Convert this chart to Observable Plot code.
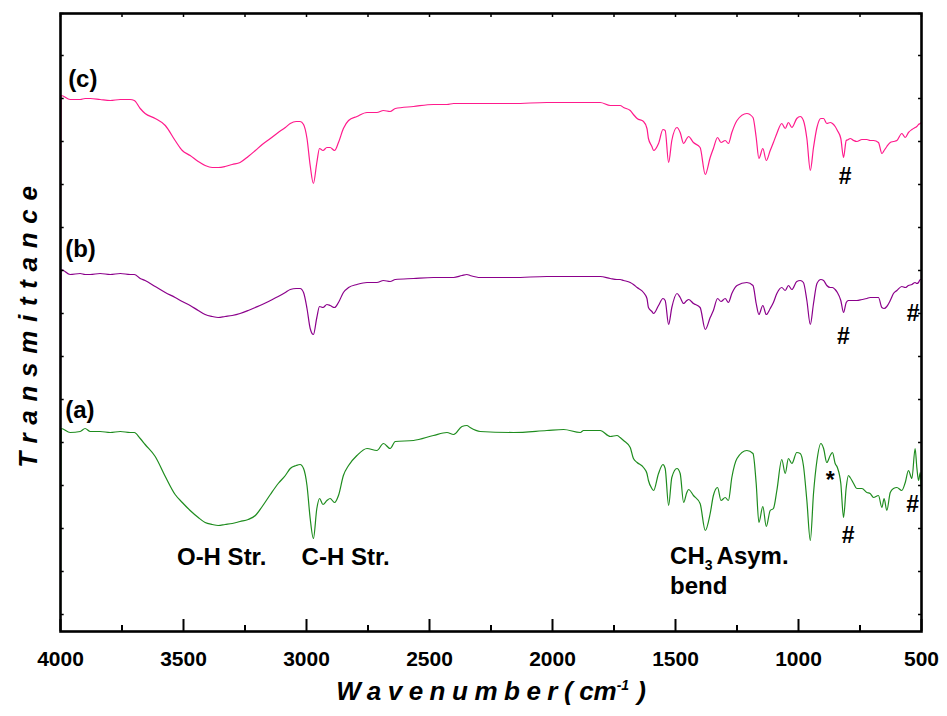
<!DOCTYPE html>
<html><head><meta charset="utf-8">
<script src="https://cdn.jsdelivr.net/npm/d3@7"></script>
<script src="https://cdn.jsdelivr.net/npm/@observablehq/plot@0.6"></script>
<style>body{margin:0;background:#fff} svg{display:block}</style>
</head><body><div id="chart"></div>
<script>
// Wavenumber grid (cm-1) shared by the three spectra
const wavenumber = [
  4000, 3997, 3961, 3920, 3900, 3879, 3839, 3798, 3757, 3717,
  3700, 3676, 3656, 3615, 3574, 3534, 3505, 3473, 3440, 3412,
  3383, 3359, 3331, 3302, 3270, 3237, 3208, 3180, 3147, 3115,
  3086, 3066, 3042, 3026, 3012, 2998, 2985, 2972, 2958, 2947,
  2933, 2917, 2904, 2886, 2870, 2850, 2829, 2795, 2754, 2714,
  2687, 2660, 2639, 2565, 2484, 2429, 2402, 2368, 2348, 2335,
  2294, 2159, 2023, 1955, 1887, 1874, 1806, 1765, 1738, 1725,
  1711, 1684, 1671, 1656, 1630, 1616, 1610, 1596, 1589, 1569,
  1551, 1542, 1528, 1515, 1494, 1481, 1467, 1454, 1447, 1427,
  1400, 1379, 1359, 1346, 1329, 1315, 1298, 1285, 1271, 1250,
  1210, 1185, 1172, 1161, 1145, 1131, 1115, 1102, 1088, 1068,
  1054, 1041, 1027, 1007, 993, 980, 966, 952, 939, 925,
  909, 898, 885, 871, 862, 851, 842, 828, 817, 806,
  797, 790, 776, 763, 742, 722, 709, 695, 675, 661,
  652, 641, 627, 614, 600, 580, 566, 553, 539, 526,
  519, 512, 505, 500
];
// Transmittance (a.u., stacked) of each sample
const spectrumA = [
  19, 203, 199, 200, 203, 200, 200, 199, 200, 199,
  199, 193, 187, 175, 155, 137, 129, 121, 114, 109,
  107, 106, 107, 108, 110, 112, 116, 125, 137, 148,
  156, 163, 166, 167, 163, 146, 113, 93, 123, 133,
  127, 131, 133, 129, 136, 156, 166, 176, 183, 181,
  188, 183, 190, 191, 196, 199, 197, 205, 206, 204,
  200, 199, 201, 202, 199, 201, 201, 195, 196, 194,
  191, 184, 173, 169, 164, 158, 151, 143, 141, 158,
  167, 163, 126, 154, 163, 158, 129, 139, 142, 136,
  128, 101, 118, 136, 144, 131, 134, 131, 154, 173,
  181, 178, 148, 109, 125, 105, 121, 123, 141, 172,
  158, 173, 168, 179, 178, 166, 131, 91, 138, 171,
  188, 183, 169, 176, 179, 168, 164, 148, 114, 144,
  156, 154, 148, 143, 143, 139, 138, 134, 136, 124,
  133, 121, 139, 143, 144, 141, 149, 161, 153, 183,
  164, 151, 159, 134
];
const spectrumB = [
  258, 362, 357, 358, 357, 357, 358, 357, 358, 357,
  357, 353, 351, 345, 339, 334, 330, 326, 321, 317,
  315, 314, 315, 316, 318, 321, 324, 327, 331, 335,
  339, 342, 343, 343, 339, 323, 303, 297, 314, 325,
  324, 327, 326, 324, 329, 339, 344, 347, 349, 349,
  351, 350, 352, 353, 354, 354, 354, 356, 357, 356,
  354, 354, 355, 355, 355, 355, 355, 353, 352, 352,
  351, 349, 347, 344, 339, 333, 324, 320, 318, 326,
  333, 331, 307, 324, 338, 334, 328, 331, 332, 328,
  324, 302, 314, 321, 333, 330, 333, 329, 338, 346,
  349, 346, 328, 317, 326, 317, 323, 329, 338, 344,
  341, 346, 342, 350, 351, 349, 331, 307, 328, 348,
  352, 351, 346, 344, 344, 342, 339, 331, 319, 329,
  331, 331, 331, 331, 332, 333, 334, 334, 334, 324,
  323, 325, 331, 338, 341, 345, 344, 346, 347, 349,
  348, 349, 352, 352
];
const spectrumC = [
  423, 536, 532, 532, 533, 533, 532, 531, 532, 532,
  531, 523, 518, 513, 506, 491, 481, 476, 470, 466,
  464, 464, 465, 467, 469, 475, 481, 487, 493, 499,
  504, 508, 510, 510, 507, 493, 466, 448, 469, 483,
  481, 484, 484, 481, 489, 503, 511, 515, 519, 519,
  521, 520, 523, 525, 527, 527, 528, 528, 528, 528,
  528, 528, 529, 529, 529, 529, 529, 526, 526, 526,
  524, 521, 517, 513, 510, 503, 493, 485, 481, 488,
  502, 501, 469, 491, 504, 499, 488, 493, 495, 489,
  484, 457, 474, 483, 494, 489, 491, 488, 499, 511,
  518, 514, 494, 473, 483, 471, 481, 489, 498, 508,
  503, 509, 504, 513, 515, 511, 493, 461, 484, 504,
  513, 513, 508, 509, 508, 505, 501, 493, 474, 491,
  492, 493, 491, 490, 492, 492, 491, 491, 489, 478,
  481, 485, 489, 490, 491, 498, 494, 499, 502, 504,
  505, 507, 508, 509
];
const seriesNames = ["(a)", "(b)", "(c)"];
const seriesColors = ["#1e8c1e", "#8b008b", "#ff1a8c"];
const seriesLabelWn = [3981, 3981, 3969];
const seriesLabelT = [221, 382, 552];

const xTickMajor = [4000, 3500, 3000, 2500, 2000, 1500, 1000, 500];
const xTickMinor = [3750, 3250, 2750, 2250, 1750, 1250, 750];
const yTicks = [17, 60, 103, 146, 189, 232, 275, 318, 361, 404, 447, 490, 533, 576, 618];

const bandText = ["O-H Str.", "C-H Str.", "CH3 Asym.", "bend"];
const bandWn = [3345, 2841, 1522, 1522];
const bandT = [74, 74, 75, 45];
const bandAnchor = ["middle", "middle", "start", "start"];

const markText = ["#", "#", "#", "#", "#", "*"];
const markWn = [810, 818, 534, 798, 536, 871];
const markT = [455, 295, 318, 96, 127, 151];

const xTitle = "Wavenumber(cm-1)";
const yTitle = "Transmittance";

// tidy table for Plot
const spectra = [spectrumA, spectrumB, spectrumC];
const rows = [];
spectra.forEach((vals, i) => vals.forEach((v, j) => rows.push({series: seriesNames[i], wn: wavenumber[j], t: v})));
const seriesLabels = seriesNames.map((s, i) => ({s, wn: seriesLabelWn[i], t: seriesLabelT[i]}));
const bands = bandText.map((s, i) => ({s, wn: bandWn[i], t: bandT[i], anchor: bandAnchor[i]}));
const marks = markText.map((s, i) => ({s, wn: markWn[i], t: markT[i]}));

const font = "'Liberation Sans', Arial, Helvetica, sans-serif";
const plot = Plot.plot({
  width: 947, height: 716,
  marginLeft: 60, marginRight: 26, marginTop: 13, marginBottom: 85,
  style: {fontFamily: font, background: "white", color: "black"},
  x: {domain: [4000, 500], axis: null},
  y: {domain: [0, 618], axis: null},
  color: {domain: seriesNames, range: seriesColors},
  marks: [
    Plot.line(rows, {x: "wn", y: "t", z: "series", stroke: "series", strokeWidth: 1.2, curve: "monotone-x"}),
    Plot.ruleX(xTickMajor, {y1: 0, y2: 12, strokeWidth: 2, stroke: "black"}),
    Plot.ruleX(xTickMinor, {y1: 0, y2: 6, strokeWidth: 2, stroke: "black"}),
    Plot.ruleX(xTickMajor.concat(xTickMinor), {y1: 618, y2: 614, strokeWidth: 1.5, stroke: "black"}),
    Plot.ruleY(yTicks, {x1: 4000, x2: 3985, strokeWidth: 1.5, stroke: "black"}),
    Plot.ruleY(yTicks, {x1: 500, x2: 512, strokeWidth: 1.5, stroke: "black"}),
    Plot.frame({stroke: "black", strokeWidth: 2.6}),
    Plot.text(xTickMajor, {x: d => d, y: 0, dy: 28, text: d => String(d), fontSize: 21, fontWeight: "bold", fill: "black"}),
    Plot.text([xTitle], {frameAnchor: "bottom", textAnchor: "middle", dy: 68, text: d => d, fontSize: 26, fontWeight: "bold", fontStyle: "italic", fill: "black"}),
    Plot.text([yTitle], {frameAnchor: "left", textAnchor: "middle", dx: -32, rotate: -90, text: d => d, fontSize: 26, fontWeight: "bold", fontStyle: "italic", fill: "black"}),
    Plot.text(seriesLabels, {x: "wn", y: "t", text: "s", textAnchor: "start", fontSize: 24, fontWeight: "bold", fill: "black"}),
    Plot.text(bands.filter(d => d.anchor === "middle"), {x: "wn", y: "t", text: "s", textAnchor: "middle", fontSize: 24, fontWeight: "bold", fill: "black"}),
    Plot.text(bands.filter(d => d.anchor === "start"), {x: "wn", y: "t", text: "s", textAnchor: "start", fontSize: 24, fontWeight: "bold", fill: "black"}),
    Plot.text(marks, {x: "wn", y: "t", text: "s", fontSize: 23, fontWeight: "bold", fill: "black"})
  ]
});

// rich text: subscript / superscript / letter spacing
d3.select(plot).selectAll("text").each(function () {
  const t = d3.select(this);
  const s = this.textContent;
  if (s === "CH3 Asym.") {
    t.text(null);
    t.append("tspan").text("CH");
    t.append("tspan").attr("font-size", 14).attr("dy", 6).text("3");
    t.append("tspan").attr("dy", -6).attr("dx", 4).text("Asym.");
  } else if (s === xTitle) {
    t.text(null);
    t.append("tspan").attr("letter-spacing", 6.5).text("Wavenumber(");
    t.append("tspan").text("cm");
    t.append("tspan").attr("font-size", 14).attr("dy", -10).text("-1");
    t.append("tspan").attr("dy", 10).attr("dx", 8).text(")");
  } else if (s === yTitle) {
    t.attr("letter-spacing", 8.7);
  }
});
document.getElementById("chart").appendChild(plot);
</script>
</body></html>
